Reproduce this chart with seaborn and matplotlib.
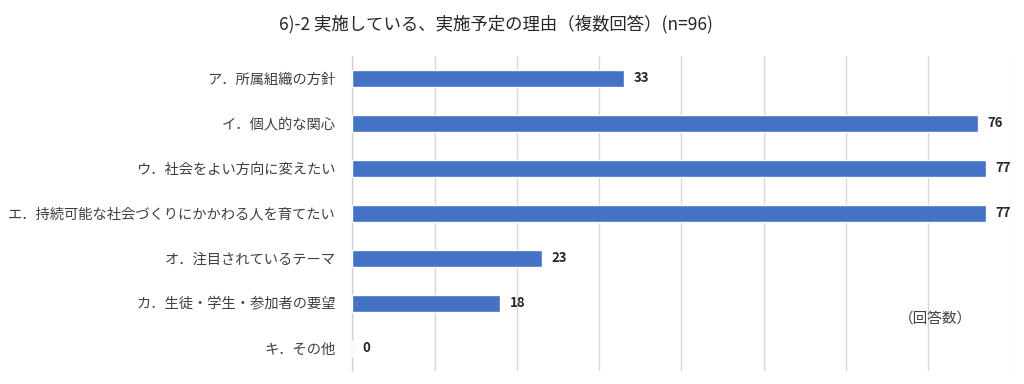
import matplotlib
matplotlib.use("Agg")
import pandas as pd
import matplotlib.pyplot as plt
import seaborn as sns

# 理由ごとの回答数
categories = [
    "ア．所属組織の方針",
    "イ．個人的な関心",
    "ウ．社会をよい方向に変えたい",
    "エ．持続可能な社会づくりにかかわる人を育てたい",
    "オ．注目されているテーマ",
    "カ．生徒・学生・参加者の要望",
    "キ．その他",
]
counts = [33, 76, 77, 77, 23, 18, 0]
title = "6)-2 実施している、実施予定の理由（複数回答）(n=96)"
unit_label = "（回答数）"

df = pd.DataFrame({"理由": categories, "回答数": counts})

sns.set_style("white")
plt.rcParams["font.family"] = ["Noto Sans CJK JP", "DejaVu Sans"]

fig = plt.figure(figsize=(10.24, 3.84), dpi=100)
ax = fig.add_axes([0.344, 0.035, 0.643, 0.82])

sns.barplot(data=df, x="回答数", y="理由", orient="h", color="#4472C4",
            saturation=1, width=0.38, ax=ax, zorder=3)

ax.set_xlim(0, 80)
ax.set_xticks(range(0, 81, 10))
ax.set_xticklabels([])
ax.tick_params(axis="both", length=0)
ax.grid(axis="x", color="#D9D9D9", linewidth=1, zorder=0)
for s in ["top", "right", "bottom"]:
    ax.spines[s].set_visible(False)
ax.spines["left"].set_color("#D0D0D0")
ax.spines["left"].set_linewidth(1)
ax.set_xlabel("")
ax.set_ylabel("")
ax.tick_params(axis="y", labelsize=10.3, labelcolor="#404040", pad=12)

for i, v in enumerate(counts):
    ax.text(v + 1.2, i, str(v), va="center", ha="left", fontsize=9.5,
            color="#262626", fontweight="bold")

ax.text(0.83, 0.165, unit_label, transform=ax.transAxes, fontsize=10.5,
        color="#404040", ha="left", va="center")

fig.suptitle(title, x=0.484, y=0.96, fontsize=12.5, color="#262626")

fig.savefig("out.png", dpi=100)
